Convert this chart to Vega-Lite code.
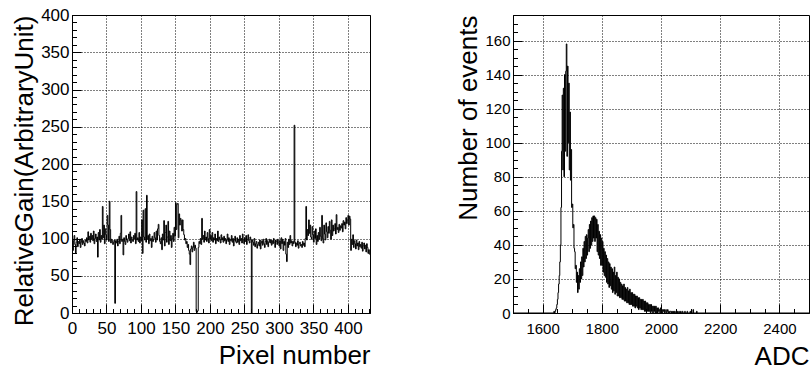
{
"$schema": "https://vega.github.io/schema/vega-lite/v6.json",
"background": "white",
"padding": {"left": 11, "top": 5, "right": 0, "bottom": 0},
"spacing": 84,
"config": {
  "view": {"stroke": "black", "strokeWidth": 1},
  "axis": {"domainColor": "black", "tickColor": "black", "tickWidth": 1, "labelColor": "black", "titleColor": "black", "labelFont": "Liberation Sans", "titleFont": "Liberation Sans", "titleFontWeight": "normal", "titleFontSize": 26, "gridColor": "black", "gridDash": [1, 2], "gridWidth": 1, "labelFlush": false, "labelOverlap": false, "titleAnchor": "end", "format": "d"}
},
"datasets": {
"gain": [
{"p":0,"g":100},{"p":1,"g":84},{"p":2,"g":97},{"p":3,"g":104},{"p":4,"g":92},{"p":5,"g":80},{"p":6,"g":95},{"p":7,"g":101},{"p":8,"g":89},{"p":9,"g":96},
{"p":10,"g":93},{"p":11,"g":99},{"p":12,"g":88},{"p":13,"g":95},{"p":14,"g":100},{"p":15,"g":92},{"p":16,"g":97},{"p":17,"g":94},{"p":18,"g":90},{"p":19,"g":98},
{"p":20,"g":96},{"p":21,"g":101},{"p":22,"g":94},{"p":23,"g":109},{"p":24,"g":98},{"p":25,"g":103},{"p":26,"g":95},{"p":27,"g":107},{"p":28,"g":99},{"p":29,"g":104},
{"p":30,"g":97},{"p":31,"g":110},{"p":32,"g":93},{"p":33,"g":100},{"p":34,"g":106},{"p":35,"g":96},{"p":36,"g":102},{"p":37,"g":75},{"p":38,"g":108},{"p":39,"g":98},
{"p":40,"g":112},{"p":41,"g":95},{"p":42,"g":104},{"p":43,"g":99},{"p":44,"g":143},{"p":45,"g":101},{"p":46,"g":118},{"p":47,"g":93},{"p":48,"g":113},{"p":49,"g":105},
{"p":50,"g":98},{"p":51,"g":131},{"p":52,"g":118},{"p":53,"g":96},{"p":54,"g":150},{"p":55,"g":112},{"p":56,"g":94},{"p":57,"g":99},{"p":58,"g":97},{"p":59,"g":92},
{"p":60,"g":95},{"p":61,"g":98},{"p":62,"g":13},{"p":63,"g":97},{"p":64,"g":94},{"p":65,"g":99},{"p":66,"g":90},{"p":67,"g":96},{"p":68,"g":103},{"p":69,"g":93},
{"p":70,"g":107},{"p":71,"g":131},{"p":72,"g":96},{"p":73,"g":99},{"p":74,"g":78},{"p":75,"g":101},{"p":76,"g":96},{"p":77,"g":92},{"p":78,"g":104},{"p":79,"g":98},
{"p":80,"g":95},{"p":81,"g":100},{"p":82,"g":106},{"p":83,"g":97},{"p":84,"g":109},{"p":85,"g":94},{"p":86,"g":102},{"p":87,"g":98},{"p":88,"g":96},{"p":89,"g":104},
{"p":90,"g":99},{"p":91,"g":107},{"p":92,"g":93},{"p":93,"g":163},{"p":94,"g":98},{"p":95,"g":101},{"p":96,"g":96},{"p":97,"g":108},{"p":98,"g":94},{"p":99,"g":102},
{"p":100,"g":97},{"p":101,"g":125},{"p":102,"g":80},{"p":103,"g":138},{"p":104,"g":102},{"p":105,"g":98},{"p":106,"g":140},{"p":107,"g":95},{"p":108,"g":158},{"p":109,"g":99},
{"p":110,"g":104},{"p":111,"g":93},{"p":112,"g":106},{"p":113,"g":97},{"p":114,"g":100},{"p":115,"g":88},{"p":116,"g":103},{"p":117,"g":96},{"p":118,"g":99},{"p":119,"g":108},
{"p":120,"g":101},{"p":121,"g":95},{"p":122,"g":110},{"p":123,"g":98},{"p":124,"g":113},{"p":125,"g":119},{"p":126,"g":104},{"p":127,"g":96},{"p":128,"g":93},{"p":129,"g":101},
{"p":130,"g":85},{"p":131,"g":106},{"p":132,"g":98},{"p":133,"g":124},{"p":134,"g":90},{"p":135,"g":108},{"p":136,"g":118},{"p":137,"g":95},{"p":138,"g":102},{"p":139,"g":123},
{"p":140,"g":92},{"p":141,"g":110},{"p":142,"g":97},{"p":143,"g":104},{"p":144,"g":88},{"p":145,"g":100},{"p":146,"g":107},{"p":147,"g":96},{"p":148,"g":115},{"p":149,"g":103},
{"p":150,"g":148},{"p":151,"g":112},{"p":152,"g":146},{"p":153,"g":147},{"p":154,"g":101},{"p":155,"g":133},{"p":156,"g":118},{"p":157,"g":127},{"p":158,"g":124},{"p":159,"g":110},
{"p":160,"g":125},{"p":161,"g":112},{"p":162,"g":105},{"p":163,"g":98},{"p":164,"g":100},{"p":165,"g":93},{"p":166,"g":96},{"p":167,"g":88},{"p":168,"g":92},{"p":169,"g":84},
{"p":170,"g":79},{"p":171,"g":65},{"p":172,"g":86},{"p":173,"g":90},{"p":174,"g":82},{"p":175,"g":88},{"p":176,"g":95},{"p":177,"g":84},{"p":178,"g":91},{"p":179,"g":87},
{"p":180,"g":2},{"p":181,"g":1},{"p":182,"g":3},{"p":183,"g":88},{"p":184,"g":96},{"p":185,"g":93},{"p":186,"g":100},{"p":187,"g":92},{"p":188,"g":127},{"p":189,"g":99},
{"p":190,"g":104},{"p":191,"g":95},{"p":192,"g":110},{"p":193,"g":98},{"p":194,"g":102},{"p":195,"g":96},{"p":196,"g":108},{"p":197,"g":100},{"p":198,"g":94},{"p":199,"g":112},
{"p":200,"g":99},{"p":201,"g":104},{"p":202,"g":97},{"p":203,"g":108},{"p":204,"g":95},{"p":205,"g":101},{"p":206,"g":98},{"p":207,"g":106},{"p":208,"g":93},{"p":209,"g":100},
{"p":210,"g":97},{"p":211,"g":110},{"p":212,"g":96},{"p":213,"g":102},{"p":214,"g":99},{"p":215,"g":94},{"p":216,"g":105},{"p":217,"g":98},{"p":218,"g":101},{"p":219,"g":95},
{"p":220,"g":103},{"p":221,"g":97},{"p":222,"g":100},{"p":223,"g":93},{"p":224,"g":98},{"p":225,"g":106},{"p":226,"g":96},{"p":227,"g":101},{"p":228,"g":92},{"p":229,"g":99},
{"p":230,"g":97},{"p":231,"g":104},{"p":232,"g":95},{"p":233,"g":100},{"p":234,"g":90},{"p":235,"g":98},{"p":236,"g":103},{"p":237,"g":96},{"p":238,"g":94},{"p":239,"g":101},
{"p":240,"g":95},{"p":241,"g":99},{"p":242,"g":92},{"p":243,"g":104},{"p":244,"g":97},{"p":245,"g":100},{"p":246,"g":94},{"p":247,"g":106},{"p":248,"g":98},{"p":249,"g":93},
{"p":250,"g":101},{"p":251,"g":96},{"p":252,"g":104},{"p":253,"g":92},{"p":254,"g":99},{"p":255,"g":105},{"p":256,"g":97},{"p":257,"g":94},{"p":258,"g":102},{"p":259,"g":99},
{"p":260,"g":0},{"p":261,"g":98},{"p":262,"g":95},{"p":263,"g":91},{"p":264,"g":100},{"p":265,"g":89},{"p":266,"g":93},{"p":267,"g":96},{"p":268,"g":87},{"p":269,"g":92},
{"p":270,"g":95},{"p":271,"g":90},{"p":272,"g":98},{"p":273,"g":86},{"p":274,"g":94},{"p":275,"g":97},{"p":276,"g":91},{"p":277,"g":99},{"p":278,"g":93},{"p":279,"g":88},
{"p":280,"g":96},{"p":281,"g":100},{"p":282,"g":92},{"p":283,"g":97},{"p":284,"g":89},{"p":285,"g":95},{"p":286,"g":99},{"p":287,"g":94},{"p":288,"g":98},{"p":289,"g":91},
{"p":290,"g":97},{"p":291,"g":93},{"p":292,"g":100},{"p":293,"g":95},{"p":294,"g":88},{"p":295,"g":98},{"p":296,"g":96},{"p":297,"g":92},{"p":298,"g":99},{"p":299,"g":94},
{"p":300,"g":90},{"p":301,"g":97},{"p":302,"g":86},{"p":303,"g":101},{"p":304,"g":93},{"p":305,"g":99},{"p":306,"g":84},{"p":307,"g":96},{"p":308,"g":91},{"p":309,"g":100},
{"p":310,"g":79},{"p":311,"g":69},{"p":312,"g":95},{"p":313,"g":88},{"p":314,"g":99},{"p":315,"g":92},{"p":316,"g":104},{"p":317,"g":94},{"p":318,"g":97},{"p":319,"g":90},
{"p":320,"g":96},{"p":321,"g":93},{"p":322,"g":252},{"p":323,"g":95},{"p":324,"g":89},{"p":325,"g":94},{"p":326,"g":91},{"p":327,"g":97},{"p":328,"g":87},{"p":329,"g":93},
{"p":330,"g":95},{"p":331,"g":90},{"p":332,"g":92},{"p":333,"g":88},{"p":334,"g":96},{"p":335,"g":91},{"p":336,"g":94},{"p":337,"g":89},{"p":338,"g":100},{"p":339,"g":143},
{"p":340,"g":98},{"p":341,"g":112},{"p":342,"g":104},{"p":343,"g":125},{"p":344,"g":107},{"p":345,"g":118},{"p":346,"g":102},{"p":347,"g":99},{"p":348,"g":116},{"p":349,"g":105},
{"p":350,"g":95},{"p":351,"g":110},{"p":352,"g":100},{"p":353,"g":113},{"p":354,"g":92},{"p":355,"g":104},{"p":356,"g":96},{"p":357,"g":108},{"p":358,"g":99},{"p":359,"g":115},
{"p":360,"g":103},{"p":361,"g":97},{"p":362,"g":131},{"p":363,"g":100},{"p":364,"g":94},{"p":365,"g":118},{"p":366,"g":106},{"p":367,"g":98},{"p":368,"g":121},{"p":369,"g":109},
{"p":370,"g":101},{"p":371,"g":116},{"p":372,"g":107},{"p":373,"g":123},{"p":374,"g":111},{"p":375,"g":99},{"p":376,"g":125},{"p":377,"g":104},{"p":378,"g":118},{"p":379,"g":110},
{"p":380,"g":113},{"p":381,"g":120},{"p":382,"g":106},{"p":383,"g":132},{"p":384,"g":112},{"p":385,"g":115},{"p":386,"g":108},{"p":387,"g":119},{"p":388,"g":111},{"p":389,"g":117},
{"p":390,"g":114},{"p":391,"g":120},{"p":392,"g":109},{"p":393,"g":124},{"p":394,"g":118},{"p":395,"g":122},{"p":396,"g":113},{"p":397,"g":128},{"p":398,"g":120},{"p":399,"g":125},
{"p":400,"g":131},{"p":401,"g":118},{"p":402,"g":130},{"p":403,"g":126},{"p":404,"g":84},{"p":405,"g":99},{"p":406,"g":92},{"p":407,"g":105},{"p":408,"g":88},{"p":409,"g":97},
{"p":410,"g":93},{"p":411,"g":86},{"p":412,"g":98},{"p":413,"g":90},{"p":414,"g":94},{"p":415,"g":85},{"p":416,"g":96},{"p":417,"g":89},{"p":418,"g":92},{"p":419,"g":87},
{"p":420,"g":95},{"p":421,"g":83},{"p":422,"g":90},{"p":423,"g":94},{"p":424,"g":86},{"p":425,"g":91},{"p":426,"g":82},{"p":427,"g":93},{"p":428,"g":88},{"p":429,"g":80},
{"p":430,"g":85},{"p":431,"g":79},{"p":432,"g":79}
],
"adc": [
{"a":1500,"n":0},{"a":1636,"n":0},{"a":1638,"n":1},{"a":1640,"n":0},{"a":1642,"n":1},{"a":1644,"n":2},{"a":1646,"n":3},{"a":1648,"n":5},{"a":1650,"n":8},{"a":1652,"n":12},{"a":1654,"n":17},{"a":1656,"n":22},{"a":1658,"n":30},{"a":1660,"n":40},{"a":1662,"n":62},{"a":1664,"n":95},
{"a":1666,"n":128},{"a":1668,"n":84},{"a":1670,"n":132},{"a":1672,"n":80},{"a":1674,"n":140},{"a":1676,"n":95},{"a":1678,"n":142},{"a":1680,"n":158},{"a":1682,"n":92},{"a":1684,"n":145},{"a":1686,"n":100},{"a":1688,"n":135},{"a":1690,"n":84},{"a":1692,"n":118},{"a":1694,"n":78},
{"a":1696,"n":96},{"a":1698,"n":62},{"a":1700,"n":64},{"a":1702,"n":50},{"a":1704,"n":52},{"a":1706,"n":38},{"a":1708,"n":36},{"a":1710,"n":26},{"a":1712,"n":28},{"a":1714,"n":18},{"a":1716,"n":24},{"a":1718,"n":12},{"a":1720,"n":22},{"a":1722,"n":14},{"a":1724,"n":26},{"a":1726,"n":18},
{"a":1728,"n":30},{"a":1730,"n":20},{"a":1732,"n":33},{"a":1734,"n":22},{"a":1736,"n":38},{"a":1738,"n":27},{"a":1740,"n":42},{"a":1742,"n":30},{"a":1744,"n":45},{"a":1746,"n":32},{"a":1748,"n":46},{"a":1750,"n":34},{"a":1752,"n":44},{"a":1754,"n":49},{"a":1756,"n":36},{"a":1758,"n":52},
{"a":1760,"n":38},{"a":1762,"n":54},{"a":1764,"n":40},{"a":1766,"n":56},{"a":1768,"n":42},{"a":1770,"n":57},{"a":1772,"n":44},{"a":1774,"n":57},{"a":1776,"n":42},{"a":1778,"n":56},{"a":1780,"n":44},{"a":1782,"n":55},{"a":1784,"n":36},{"a":1786,"n":52},{"a":1788,"n":34},{"a":1790,"n":48},
{"a":1792,"n":32},{"a":1794,"n":46},{"a":1796,"n":28},{"a":1798,"n":44},{"a":1800,"n":28},{"a":1802,"n":42},{"a":1804,"n":24},{"a":1806,"n":38},{"a":1808,"n":22},{"a":1810,"n":36},{"a":1812,"n":21},{"a":1814,"n":34},{"a":1816,"n":18},{"a":1818,"n":32},{"a":1820,"n":17},{"a":1822,"n":30},
{"a":1824,"n":15},{"a":1826,"n":29},{"a":1828,"n":16},{"a":1830,"n":27},{"a":1832,"n":14},{"a":1834,"n":26},{"a":1836,"n":12},{"a":1838,"n":24},{"a":1840,"n":13},{"a":1842,"n":27},{"a":1844,"n":11},{"a":1846,"n":22},{"a":1848,"n":12},{"a":1850,"n":24},{"a":1852,"n":10},{"a":1854,"n":21},
{"a":1856,"n":10},{"a":1858,"n":20},{"a":1860,"n":9},{"a":1862,"n":18},{"a":1864,"n":9},{"a":1866,"n":17},{"a":1868,"n":8},{"a":1870,"n":16},{"a":1872,"n":8},{"a":1874,"n":17},{"a":1876,"n":7},{"a":1878,"n":15},{"a":1880,"n":7},{"a":1882,"n":14},{"a":1884,"n":6},{"a":1886,"n":15},
{"a":1888,"n":6},{"a":1890,"n":13},{"a":1892,"n":5},{"a":1894,"n":14},{"a":1896,"n":5},{"a":1898,"n":12},{"a":1900,"n":5},{"a":1902,"n":12},{"a":1904,"n":4},{"a":1906,"n":11},{"a":1908,"n":4},{"a":1910,"n":11},{"a":1912,"n":3},{"a":1914,"n":10},{"a":1916,"n":4},{"a":1918,"n":10},
{"a":1920,"n":3},{"a":1922,"n":9},{"a":1924,"n":2},{"a":1926,"n":9},{"a":1928,"n":3},{"a":1930,"n":8},{"a":1932,"n":2},{"a":1934,"n":8},{"a":1936,"n":2},{"a":1938,"n":8},{"a":1940,"n":2},{"a":1942,"n":7},{"a":1944,"n":1},{"a":1946,"n":7},{"a":1948,"n":1},{"a":1950,"n":6},
{"a":1952,"n":1},{"a":1954,"n":6},{"a":1956,"n":1},{"a":1958,"n":5},{"a":1960,"n":1},{"a":1962,"n":5},{"a":1964,"n":0},{"a":1966,"n":5},{"a":1968,"n":1},{"a":1970,"n":4},{"a":1972,"n":0},{"a":1974,"n":4},{"a":1976,"n":1},{"a":1978,"n":4},{"a":1980,"n":0},{"a":1982,"n":4},
{"a":1984,"n":0},{"a":1986,"n":3},{"a":1988,"n":0},{"a":1990,"n":3},{"a":1992,"n":1},{"a":1994,"n":2},{"a":1996,"n":0},{"a":1998,"n":3},{"a":2000,"n":1},{"a":2002,"n":2},{"a":2004,"n":0},{"a":2006,"n":2},{"a":2008,"n":1},{"a":2010,"n":2},{"a":2012,"n":0},{"a":2014,"n":1},
{"a":2016,"n":2},{"a":2018,"n":0},{"a":2020,"n":1},{"a":2022,"n":2},{"a":2024,"n":0},{"a":2026,"n":1},{"a":2028,"n":0},{"a":2030,"n":1},{"a":2032,"n":1},{"a":2034,"n":0},{"a":2036,"n":1},{"a":2038,"n":0},{"a":2040,"n":1},{"a":2042,"n":0},{"a":2044,"n":1},{"a":2046,"n":0},
{"a":2050,"n":1},{"a":2052,"n":0},{"a":2054,"n":1},{"a":2056,"n":0},{"a":2060,"n":1},{"a":2062,"n":0},{"a":2066,"n":1},{"a":2068,"n":0},{"a":2072,"n":1},{"a":2074,"n":0},{"a":2080,"n":1},{"a":2082,"n":0},{"a":2088,"n":1},{"a":2090,"n":0},{"a":2098,"n":1},{"a":2100,"n":0},
{"a":2108,"n":2},{"a":2110,"n":0},{"a":2120,"n":1},{"a":2122,"n":0},{"a":2500,"n":0}
]
},
"hconcat": [
{
  "width": 298, "height": 298,
  "data": {"name": "gain"},
  "mark": {"type": "line", "interpolate": "step-after", "color": "black", "strokeWidth": 1, "clip": true},
  "encoding": {
    "x": {"field": "p", "type": "quantitative", "scale": {"domain": [0, 432], "nice": false, "zero": false},
      "axis": {"title": "Pixel number", "values": [0,10,20,30,40,50,60,70,80,90,100,110,120,130,140,150,160,170,180,190,200,210,220,230,240,250,260,270,280,290,300,310,320,330,340,350,360,370,380,390,400,410,420,430],
        "labelExpr": "datum.value % 50 === 0 ? datum.label : ''",
        "tickSize": {"condition": {"test": "datum.value % 50 === 0", "value": -9}, "value": -4.5},
        "gridOpacity": {"condition": {"test": "datum.value % 50 === 0", "value": 1}, "value": 0},
        "labelFontSize": 17, "labelPadding": 16, "titlePadding": 2}},
    "y": {"field": "g", "type": "quantitative", "scale": {"domain": [0, 400], "nice": false},
      "axis": {"title": "RelativeGain(ArbitraryUnit)", "values": [0,10,20,30,40,50,60,70,80,90,100,110,120,130,140,150,160,170,180,190,200,210,220,230,240,250,260,270,280,290,300,310,320,330,340,350,360,370,380,390,400],
        "labelExpr": "datum.value % 50 === 0 ? datum.label : ''",
        "tickSize": {"condition": {"test": "datum.value % 50 === 0", "value": -9}, "value": -4.5},
        "gridOpacity": {"condition": {"test": "datum.value % 50 === 0", "value": 1}, "value": 0},
        "labelFontSize": 17, "labelPadding": 12, "titlePadding": 3}}
  }
},
{
  "width": 296, "height": 298,
  "data": {"name": "adc"},
  "mark": {"type": "line", "interpolate": "step-after", "color": "black", "strokeWidth": 1, "clip": true},
  "encoding": {
    "x": {"field": "a", "type": "quantitative", "scale": {"domain": [1500, 2500], "nice": false, "zero": false},
      "axis": {"title": "ADC", "values": [1500,1550,1600,1650,1700,1750,1800,1850,1900,1950,2000,2050,2100,2150,2200,2250,2300,2350,2400,2450,2500],
        "labelExpr": "datum.value % 200 === 0 ? datum.label : ''",
        "tickSize": {"condition": {"test": "datum.value % 200 === 0", "value": -9}, "value": -4.5},
        "gridOpacity": {"condition": {"test": "datum.value % 200 === 0", "value": 1}, "value": 0},
        "labelFontSize": 15, "labelPadding": 17, "titlePadding": 3}},
    "y": {"field": "n", "type": "quantitative", "scale": {"domain": [0, 175], "nice": false},
      "axis": {"title": "Number of events", "values": [0,5,10,15,20,25,30,35,40,45,50,55,60,65,70,75,80,85,90,95,100,105,110,115,120,125,130,135,140,145,150,155,160,165,170,175],
        "labelExpr": "datum.value % 20 === 0 ? datum.label : ''",
        "tickSize": {"condition": {"test": "datum.value % 20 === 0", "value": -9}, "value": -4.5},
        "gridOpacity": {"condition": {"test": "datum.value % 20 === 0", "value": 1}, "value": 0},
        "labelFontSize": 15, "labelPadding": 12, "titlePadding": 3}}
  }
}
]
}
